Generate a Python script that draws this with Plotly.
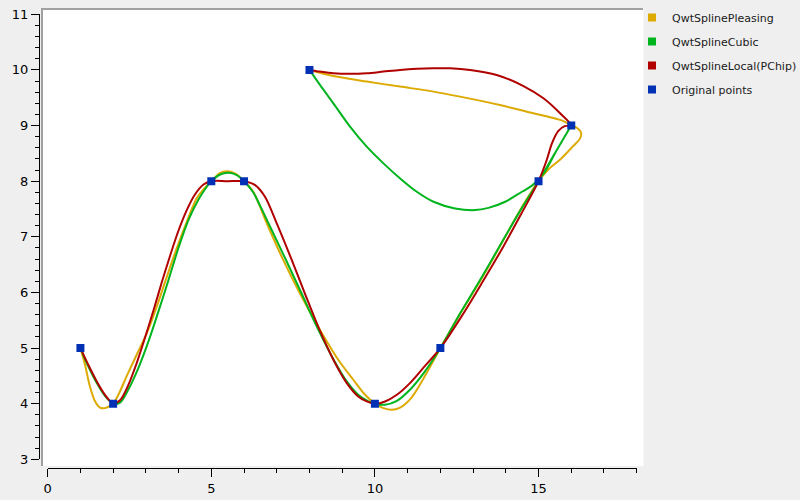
import plotly.graph_objects as go

# Original control points
points_x = [1, 2, 5, 6, 10, 12, 15, 16, 8]
points_y = [5, 4, 8, 8, 4, 5, 8, 9, 10]

# Curves
pleasing_x = [1, 1.14, 1.29, 1.45, 1.60, 1.75, 1.90, 2, 2.16, 2.41, 2.72, 3.03, 3.33, 3.64, 3.94,
              4.25, 4.55, 4.76, 5, 5.27, 5.47, 5.72, 6, 6.28, 6.69, 7.20, 7.71, 8.27, 8.88, 9.34,
              9.70, 10, 10.26, 10.51, 10.77, 11.12, 11.58, 12, 12.65, 13.26, 13.85, 14.42, 15,
              15.30, 15.68, 16.04, 16.27, 16.30, 16.17, 16, 15.76, 15.35, 14.84, 13.82, 12.60,
              11.79, 10.77, 9.75, 8.73, 8]
pleasing_y = [5, 4.70, 4.31, 4.04, 3.93, 3.92, 3.96, 4, 4.16, 4.49, 4.88, 5.27, 5.74, 6.28, 6.79,
              7.27, 7.69, 7.85, 8, 8.15, 8.18, 8.14, 8, 7.81, 7.25, 6.58, 5.98, 5.38, 4.79, 4.43,
              4.16, 4, 3.92, 3.89, 3.93, 4.11, 4.55, 5, 5.66, 6.25, 6.86, 7.46, 8,
              8.21, 8.40, 8.62, 8.77, 8.87, 8.96, 9, 9.08, 9.15, 9.22, 9.37, 9.52,
              9.61, 9.70, 9.79, 9.89, 10]

cubic_x = [1, 1.24, 1.50, 1.75, 2, 2.21, 2.46, 2.77, 3.08, 3.38, 3.69, 3.99, 4.30, 4.60, 4.86, 5,
           5.27, 5.52, 5.78, 6, 6.28, 6.49, 6.79, 7.30, 7.76, 8.22, 8.73, 9.14, 9.49, 9.80, 10,
           10.31, 10.67, 11.07, 11.53, 12, 12.60, 13.20, 13.80, 14.40, 15, 15.50, 16,
           15.55, 15.15, 14.80, 14.49, 13.98, 13.47, 13.06, 12.45, 11.79, 11.28, 10.77, 10.26,
           9.75, 9.24, 8.73, 8.32, 8]
cubic_y = [5, 4.67, 4.37, 4.14, 4, 4.02, 4.25, 4.64, 5.12, 5.65, 6.22, 6.79, 7.30, 7.66, 7.90, 8,
           8.12, 8.15, 8.11, 8, 7.80, 7.56, 7.19, 6.56, 5.98, 5.39, 4.80, 4.40, 4.16, 4.04, 4,
           3.98, 4.05, 4.25, 4.58, 5, 5.62, 6.21, 6.82, 7.43, 8, 8.50, 9,
           8.55, 8.13, 7.92, 7.81, 7.63, 7.52, 7.48, 7.51, 7.63, 7.81, 8.05, 8.32,
           8.62, 8.98, 9.40, 9.73, 10]

pchip_x = [1, 1.24, 1.50, 1.75, 2, 2.21, 2.46, 2.72, 2.97, 3.23, 3.48, 3.74, 3.99, 4.25, 4.50,
           4.76, 5, 5.5, 6, 6.34, 6.64, 7.00, 7.46, 7.86, 8.27, 8.73, 9.14, 9.49, 9.75, 10,
           10.31, 10.67, 11.07, 11.53, 12, 12.68, 13.30, 13.90, 14.46, 15, 15.25, 15.41,
           15.60, 15.80, 16, 15.66, 15.15, 14.54, 13.72, 12.91, 12.30, 11.79, 11.28, 10.77,
           10.26, 9.75, 9.24, 8.73, 8.32, 8]
pchip_y = [5, 4.70, 4.40, 4.16, 4, 4.06, 4.33, 4.73, 5.18, 5.67, 6.17, 6.66, 7.10, 7.48, 7.76,
           7.94, 8, 8, 8, 7.93, 7.72, 7.24, 6.58, 5.98, 5.38, 4.79, 4.37, 4.13, 4.04, 4,
           4.04, 4.16, 4.37, 4.68, 5, 5.60, 6.20, 6.80, 7.40, 8, 8.38, 8.68,
           8.90, 8.99, 9, 9.22, 9.49, 9.71, 9.91, 10.00, 10.03, 10.03, 10.02, 10.00,
           9.97, 9.94, 9.93, 9.94, 9.97, 10]

series_names = ["QwtSplinePleasing", "QwtSplineCubic", "QwtSplineLocal(PChip)", "Original points"]
series_colors = ["#dcaa00", "#00b41e", "#b00000", "#0030b4"]

x_ticks = [0, 5, 10, 15]
y_ticks = [3, 4, 5, 6, 7, 8, 9, 10, 11]

curves = [(pleasing_x, pleasing_y), (cubic_x, cubic_y), (pchip_x, pchip_y)]

fig = go.Figure()
for i, (cx, cy) in enumerate(curves):
    fig.add_trace(go.Scatter(
        x=cx, y=cy, mode="lines",
        line=dict(color=series_colors[i], width=2, shape="spline", smoothing=0.9),
        showlegend=False, legendgroup=series_names[i], hoverinfo="skip"))
    fig.add_trace(go.Scatter(
        x=[None], y=[None], mode="markers", name=series_names[i],
        marker=dict(symbol="square", size=8, color=series_colors[i]),
        legendgroup=series_names[i]))

fig.add_trace(go.Scatter(
    x=points_x, y=points_y, mode="markers", name=series_names[3],
    marker=dict(symbol="square", size=8, color=series_colors[3]),
    legendgroup=series_names[3]))

L, R, T, B = 39, 156, 8, 32
W = 800 - L - R
H = 500 - T - B

def px_x(p):
    return (p - L) / W

def px_y(p):
    return (500 - B - p) / H

shapes = [
    dict(type="rect", xref="paper", yref="paper", x0=px_x(41), x1=px_x(643.5),
         y0=px_y(466), y1=px_y(8), fillcolor="white", line=dict(width=0), layer="below"),
    dict(type="line", xref="paper", yref="paper", x0=px_x(41), x1=px_x(643),
         y0=px_y(9), y1=px_y(9), line=dict(color="#a0a0a0", width=2), layer="below"),
    dict(type="line", xref="paper", yref="paper", x0=px_x(42), x1=px_x(42),
         y0=px_y(466), y1=px_y(8), line=dict(color="#a0a0a0", width=2), layer="below"),
]

tick_font = dict(family="DejaVu Sans", size=13, color="#000000")

fig.update_layout(
    width=800, height=500,
    margin=dict(l=L, r=R, t=T, b=B, pad=0, autoexpand=False),
    paper_bgcolor="#efefef",
    plot_bgcolor="rgba(0,0,0,0)",
    font=dict(family="DejaVu Sans", size=11, color="#000000"),
    shapes=shapes,
    xaxis=dict(
        domain=[px_x(47.7), px_x(636.7)], range=[0, 18], anchor="free", position=0,
        tickmode="array", tickvals=x_ticks, ticktext=[str(v) for v in x_ticks],
        ticks="outside", ticklen=8, tickwidth=1, tickcolor="black",
        minor=dict(dtick=1, tick0=0, ticks="outside", ticklen=4, tickwidth=1, tickcolor="black", showgrid=False),
        showline=True, linecolor="black", linewidth=1, automargin=False,
        showgrid=False, zeroline=False, tickfont=tick_font, fixedrange=True),
    yaxis=dict(
        domain=[px_y(459.3), px_y(14.3)], range=[3, 11], anchor="free", position=0,
        tickmode="array", tickvals=y_ticks, ticktext=[str(v) for v in y_ticks],
        ticks="outside", ticklen=8, tickwidth=1, tickcolor="black",
        minor=dict(dtick=0.2, tick0=0, ticks="outside", ticklen=4, tickwidth=1, tickcolor="black", showgrid=False),
        showline=True, linecolor="black", linewidth=1, automargin=False,
        showgrid=False, zeroline=False, tickfont=tick_font, fixedrange=True),
    legend=dict(
        x=px_x(632), xanchor="left", y=px_y(3), yanchor="top",
        bgcolor="rgba(0,0,0,0)", borderwidth=0, tracegroupgap=5,
        itemwidth=30, font=dict(family="DejaVu Sans", size=11, color="#202020")),
)

fig.write_html(
    "out.html",
    config={"displayModeBar": False},
    post_script="document.body.style.margin='0px';document.body.style.background='#efefef';",
)
